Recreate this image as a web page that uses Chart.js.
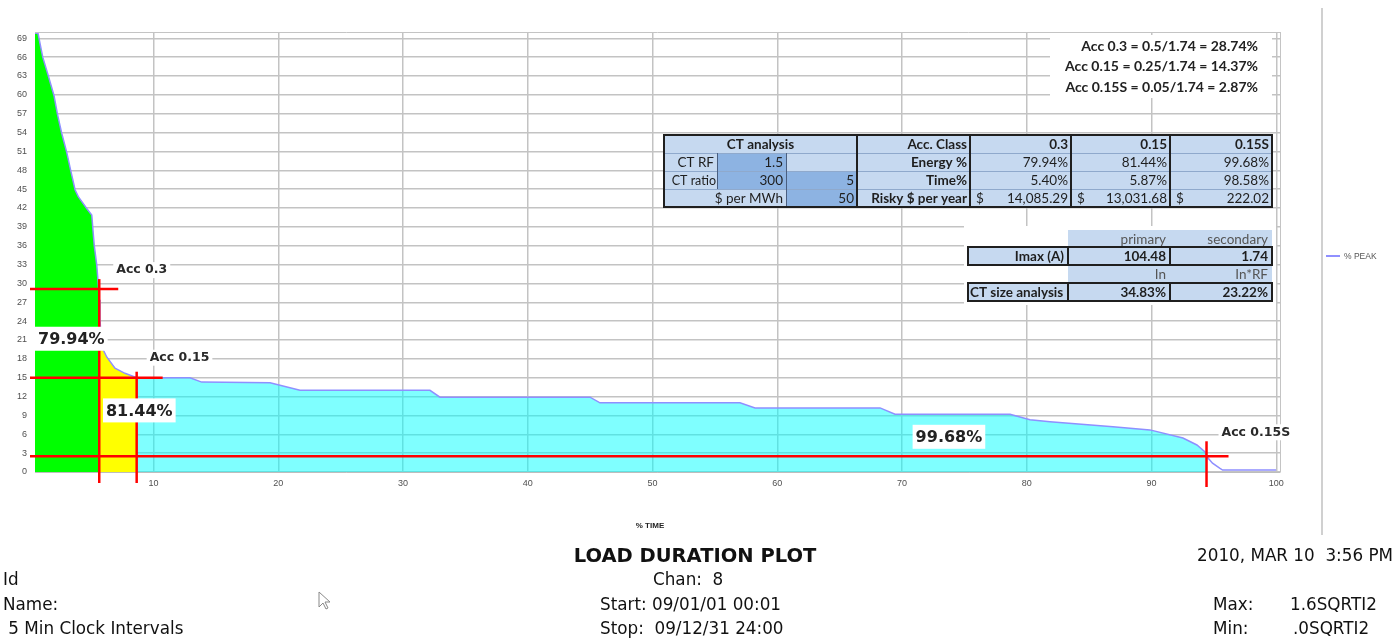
<!DOCTYPE html>
<html><head><meta charset="utf-8">
<script src="https://cdn.jsdelivr.net/npm/chart.js@4.4.1/dist/chart.umd.min.js"></script>
<style>html,body{margin:0;padding:0;background:#fff;overflow:hidden}#wrap{width:1397px;height:641px;position:relative}canvas{display:block}</style>
</head><body><div id="wrap"><canvas id="c" width="1397" height="641"></canvas></div>
<script>
// ---- curve data ----
const timePct = [0.5,0.74,1.12,1.57,2.02,2.29,2.64,3.04,3.36,3.71,3.97,4.69,5.05,5.13,5.25,5.45,5.57,5.65,5.71,5.85,6.25,6.91,7.71,8.65,12.92,13.86,19.34,21.74,32.16,32.96,44.99,45.79,57.01,58.22,68.24,69.44,78.66,80.26,81.86,86.91,89.87,92.52,93.64,94.29,94.41,94.89,95.46,95.70,99.98];
const peakPct = [69.8,69.8,66.0,63.0,59.9,57.0,53.9,50.9,48.0,44.9,43.8,41.8,40.9,38.9,36.0,32.9,29.9,27.4,24.2,19.9,18.3,16.5,15.7,15.0,15.0,14.3,14.2,13.0,13.0,11.9,11.9,11.0,11.0,10.2,10.2,9.2,9.2,8.3,8.0,7.2,6.7,5.4,4.3,3.2,2.5,1.4,0.6,0.3,0.3];
const xTickValues = [10,20,30,40,50,60,70,80,90,100];
const yTickValues = [0,3,6,9,12,15,18,21,24,27,30,33,36,39,42,45,48,51,54,57,60,63,66,69];
// zone ends (time %) : green / yellow / cyan
const zoneEnds = [5.65, 8.65, 94.41];
// accuracy markers
const accNames = ['Acc 0.3','Acc 0.15','Acc 0.15S'];
const accLevel = [29.1, 15.0, 2.5];
const accTime = [5.65, 8.65, 94.41];
const energyLabels = ['79.94%','81.44%','99.68%'];
const energyAt = [[0.5,21.2],[5.95,9.8],[70.85,5.6]];
// text blocks
const accFormulas = ['Acc 0.3 = 0.5/1.74 = 28.74%','Acc 0.15 = 0.25/1.74 = 14.37%','Acc 0.15S = 0.05/1.74 = 2.87%'];
const ctHeader = 'CT analysis';
const ctLabels = ['CT RF','CT ratio','$ per MWh'];
const ctRF = '1.5', ctRatio = ['300','5'], perMWh = '50';
const accClassRow = ['Acc. Class','0.3','0.15','0.15S'];
const energyRow = ['Energy %','79.94%','81.44%','99.68%'];
const timeRow = ['Time%','5.40%','5.87%','98.58%'];
const riskyRow = ['Risky $ per year','14,085.29','13,031.68','222.02'];
const t2Head1 = ['primary','secondary'];
const imaxRow = ['Imax (A)','104.48','1.74'];
const t2Head2 = ['In','In*RF'];
const ctSizeRow = ['CT size analysis','34.83%','23.22%'];
const footLeft = ['Id','Name:',' 5 Min Clock Intervals'];
const footTitle = 'LOAD DURATION PLOT';
const footMid = ['Chan:  8','Start: 09/01/01 00:01','Stop:  09/12/31 24:00'];
const footDate = '2010, MAR 10  3:56 PM';
const footMax = ['Max:','1.6SQRTI2'], footMin = ['Min:','.0SQRTI2'];

const pts = timePct.map((x,i)=>({x:x, y:peakPct[i]}));
const seg = (a,b)=>pts.filter(p=>p.x>=a && p.x<=b);

const TS = 13.5; // table font size
function T(ctx,s,x,y,o){
  o=o||{};
  ctx.font=(o.bold?'bold ':'')+(o.size||TS)+'px '+(o.family||'Lato');
  ctx.fillStyle=o.color||'#1e1e1e';
  ctx.textAlign=o.align||'left';
  ctx.textBaseline='middle';
  ctx.fillText(s,x,y);
}
function line(ctx,x0,y0,x1,y1){ctx.beginPath();ctx.moveTo(x0,y0);ctx.lineTo(x1,y1);ctx.stroke();}

function drawTable1(ctx){
  const xe=[664,717,786,857,970,1071,1170,1272], ye=[135,153,171,189,207];
  const light='#c6d9f0', dark='#8db3e2';
  ctx.fillStyle=light; ctx.fillRect(xe[0],ye[0],xe[7]-xe[0],ye[4]-ye[0]);
  ctx.fillStyle=dark;
  [[1,1],[1,2],[2,2],[2,3]].forEach(([c,r])=>ctx.fillRect(xe[c],ye[r],xe[c+1]-xe[c],ye[r+1]-ye[r]));
  ctx.strokeStyle='#8fa9cc'; ctx.lineWidth=1;
  for(let r=1;r<4;r++) line(ctx,xe[0],ye[r]+0.5,xe[7],ye[r]+0.5);
  ctx.strokeStyle='#4a5f80';
  line(ctx,xe[1]+0.5,ye[1],xe[1]+0.5,ye[3]);
  line(ctx,xe[2]+0.5,ye[1],xe[2]+0.5,ye[4]);
  ctx.strokeStyle='#1f1f1f'; ctx.lineWidth=2;
  ctx.strokeRect(xe[0],ye[0],xe[7]-xe[0],ye[4]-ye[0]);
  for(let c=3;c<7;c++) line(ctx,xe[c],ye[0],xe[c],ye[4]);
  const cy=r=>(ye[r]+ye[r+1])/2+1;
  T(ctx,ctHeader,(xe[0]+xe[3])/2,cy(0),{bold:true,align:'center'});
  T(ctx,ctLabels[0],xe[1]-3,cy(1),{align:'right'});
  T(ctx,ctRF,xe[2]-3,cy(1),{align:'right'});
  T(ctx,ctLabels[1],xe[1]-1,cy(2),{align:'right',size:12.5});
  T(ctx,ctRatio[0],xe[2]-3,cy(2),{align:'right'});
  T(ctx,ctRatio[1],xe[3]-3,cy(2),{align:'right'});
  T(ctx,ctLabels[2],xe[2]-3,cy(3),{align:'right'});
  T(ctx,perMWh,xe[3]-3,cy(3),{align:'right'});
  const rows=[accClassRow,energyRow,timeRow,riskyRow];
  rows.forEach((row,r)=>{
    T(ctx,row[0],xe[4]-3,cy(r),{bold:true,align:'right'});
    for(let k=1;k<4;k++){
      T(ctx,row[k],xe[4+k]-3,cy(r),{bold:r===0,align:'right'});
      if(r===3) T(ctx,'$',xe[3+k]+6,cy(r),{});
    }
  });
}
function drawTable2(ctx){
  const xe=[968,1068,1170,1272], ye=[230,247,265,283,301];
  const light='#c6d9f0';
  ctx.fillStyle='#fff'; ctx.fillRect(xe[0]-4,ye[0]-4,xe[3]-xe[0]+8,ye[4]-ye[0]+8);
  ctx.fillStyle=light;
  ctx.fillRect(xe[1],ye[0],xe[3]-xe[1],ye[1]-ye[0]);
  ctx.fillRect(xe[0],ye[1],xe[3]-xe[0],ye[2]-ye[1]);
  ctx.fillRect(xe[1],ye[2],xe[3]-xe[1],ye[3]-ye[2]);
  ctx.fillRect(xe[0],ye[3],xe[3]-xe[0],ye[4]-ye[3]);
  ctx.strokeStyle='#1f1f1f'; ctx.lineWidth=2;
  [1,3].forEach(r=>{
    ctx.strokeRect(xe[0],ye[r],xe[3]-xe[0],ye[r+1]-ye[r]);
    line(ctx,xe[1],ye[r],xe[1],ye[r+1]); line(ctx,xe[2],ye[r],xe[2],ye[r+1]);
  });
  const cy=r=>(ye[r]+ye[r+1])/2+1;
  T(ctx,t2Head1[0],xe[2]-4,cy(0),{align:'right',color:'#555'});
  T(ctx,t2Head1[1],xe[3]-4,cy(0),{align:'right',color:'#555'});
  T(ctx,imaxRow[0],xe[1]-4,cy(1),{align:'right',bold:true});
  T(ctx,imaxRow[1],xe[2]-4,cy(1),{align:'right',bold:true});
  T(ctx,imaxRow[2],xe[3]-4,cy(1),{align:'right',bold:true});
  T(ctx,t2Head2[0],xe[2]-4,cy(2),{align:'right',color:'#555'});
  T(ctx,t2Head2[1],xe[3]-4,cy(2),{align:'right',color:'#555'});
  T(ctx,ctSizeRow[0],xe[0]+2,cy(3),{bold:true});
  T(ctx,ctSizeRow[1],xe[2]-4,cy(3),{align:'right',bold:true});
  T(ctx,ctSizeRow[2],xe[3]-4,cy(3),{align:'right',bold:true});
}

const accStyle = [
  {hRight:19, vUp:10, vDown:11, lx:17, ly:-19},
  {hRight:26, vUp:6,  vDown:11, lx:13, ly:-20},
  {hRight:22, vUp:15, vDown:15, lx:15, ly:-24}
];

const decor = {
  id:'decor',
  afterDatasetsDraw(chart){
    const ctx=chart.ctx, xs=chart.scales.x, ys=chart.scales.y, a=chart.chartArea;
    ctx.save();
    ctx.strokeStyle='#c4c4c4'; ctx.lineWidth=1;
    line(ctx,a.left,a.top+0.5,a.right,a.top+0.5);
    line(ctx,a.right+0.5,a.top,a.right+0.5,a.bottom);
    // red marker lines
    ctx.strokeStyle='#ff0000'; ctx.lineWidth=2.5;
    accLevel.forEach((lv,i)=>{
      const px=xs.getPixelForValue(accTime[i]), py=ys.getPixelForValue(lv), st=accStyle[i];
      line(ctx,a.left-5,py,px+st.hRight,py);
      line(ctx,px,py-st.vUp,px,a.bottom+st.vDown);
    });
    // Acc labels
    accNames.forEach((s,i)=>{
      const px=xs.getPixelForValue(accTime[i]), py=ys.getPixelForValue(accLevel[i]), st=accStyle[i];
      ctx.font='bold 12.5px "DejaVu Sans"';
      const w=ctx.measureText(s).width;
      ctx.fillStyle='#fff'; ctx.fillRect(px+st.lx-3,py+st.ly-8,w+6,16);
      T(ctx,s,px+st.lx,py+st.ly,{bold:true,size:12.5,family:'"DejaVu Sans"',color:'#2a2a2a'});
    });
    // energy labels
    energyLabels.forEach((s,i)=>{
      const px=xs.getPixelForValue(energyAt[i][0]), py=ys.getPixelForValue(energyAt[i][1]);
      ctx.font='bold 16px "DejaVu Sans"';
      const w=ctx.measureText(s).width;
      ctx.fillStyle='#fff'; ctx.fillRect(px,py-12,w+6,24);
      T(ctx,s,px+3,py+1,{bold:true,size:16,family:'"DejaVu Sans"',color:'#222'});
    });
    ctx.restore();
  },
  afterDraw(chart){
    const ctx=chart.ctx;
    ctx.save();
    // formula box
    ctx.fillStyle='#fff'; ctx.fillRect(1050,35,222,63);
    accFormulas.forEach((s,i)=>T(ctx,s,1258,46+i*20.5,{bold:true,size:14,color:'#222',align:'right'}));
    drawTable1(ctx);
    drawTable2(ctx);
    // axis title
    T(ctx,'% TIME',650,526,{bold:true,size:8,family:'"Liberation Sans"',color:'#222',align:'center'});
    // legend
    ctx.strokeStyle='#d0d0d0'; ctx.lineWidth=2; line(ctx,1322,8,1322,535);
    ctx.strokeStyle='#9090ff'; ctx.lineWidth=2; line(ctx,1326,256,1340,256);
    T(ctx,'% PEAK',1344,256.5,{size:8.5,family:'"Liberation Sans"',color:'#555'});
    // footer
    const F='"DejaVu Sans"', C='#111', S=16.8;
    T(ctx,footTitle,695,557,{bold:true,size:19.5,family:F,color:C,align:'center'});
    T(ctx,footDate,1393,557,{size:S,family:F,color:C,align:'right'});
    footLeft.forEach((s,i)=>T(ctx,s,3,581+i*24.5,{size:S,family:F,color:C}));
    T(ctx,footMid[0],653,581,{size:S,family:F,color:C});
    T(ctx,footMid[1],600,606,{size:S,family:F,color:C});
    T(ctx,footMid[2],600,630,{size:S,family:F,color:C});
    T(ctx,footMax[0],1213,606,{size:S,family:F,color:C});
    T(ctx,footMax[1],1290,606,{size:S,family:F,color:C});
    T(ctx,footMin[0],1213,630,{size:S,family:F,color:C});
    T(ctx,footMin[1],1293,630,{size:S,family:F,color:C});
    // mouse pointer
    ctx.translate(319,592);
    ctx.beginPath();ctx.moveTo(0,0);ctx.lineTo(0,15);ctx.lineTo(4,11);ctx.lineTo(7,17);ctx.lineTo(9,16);ctx.lineTo(6,10);ctx.lineTo(11,10);ctx.closePath();
    ctx.fillStyle='#fff';ctx.fill();ctx.strokeStyle='#888';ctx.lineWidth=1;ctx.stroke();
    ctx.restore();
  }
};

const tickFont={size:9,family:'"Liberation Sans"'};
new Chart(document.getElementById('c').getContext('2d'),{
  type:'line',
  data:{datasets:[
    {label:'% PEAK',data:pts,borderColor:'#8f8fff',borderWidth:1.5,pointRadius:0,fill:false,tension:0,order:0},
    {label:'z1',data:seg(timePct[0],zoneEnds[0]),backgroundColor:'#00ff00',borderColor:'transparent',borderWidth:0,pointRadius:0,fill:'origin',tension:0,order:1},
    {label:'z2',data:seg(zoneEnds[0],zoneEnds[1]),backgroundColor:'#ffff00',borderColor:'transparent',borderWidth:0,pointRadius:0,fill:'origin',tension:0,order:1},
    {label:'z3',data:seg(zoneEnds[1],zoneEnds[2]),backgroundColor:'rgba(0,255,255,0.5)',borderColor:'transparent',borderWidth:0,pointRadius:0,fill:'origin',tension:0,order:1}
  ]},
  options:{
    responsive:false,animation:false,devicePixelRatio:1,
    layout:{padding:{left:0,top:32,right:117,bottom:0}},
    plugins:{legend:{display:false},tooltip:{enabled:false}},
    scales:{
      x:{type:'linear',min:0.5,max:100.3,
        afterBuildTicks:s=>{s.ticks=xTickValues.map(v=>({value:v}));},
        afterFit:s=>{s.height=641-472;},
        grid:{color:'#c3c3c3',lineWidth:1.5,drawTicks:false},
        border:{color:'#bdbdbd',width:1},
        ticks:{padding:6,font:tickFont,color:'#505050',maxRotation:0,autoSkip:false}},
      y:{type:'linear',min:0,max:70,
        afterBuildTicks:s=>{s.ticks=yTickValues.map(v=>({value:v}));},
        afterFit:s=>{s.width=35;},
        grid:{color:'#c3c3c3',lineWidth:1.5,drawTicks:false},
        border:{color:'#bdbdbd',width:1},
        ticks:{padding:8,font:tickFont,color:'#505050',autoSkip:false}}
    }
  },
  plugins:[decor]
});
</script></body></html>
